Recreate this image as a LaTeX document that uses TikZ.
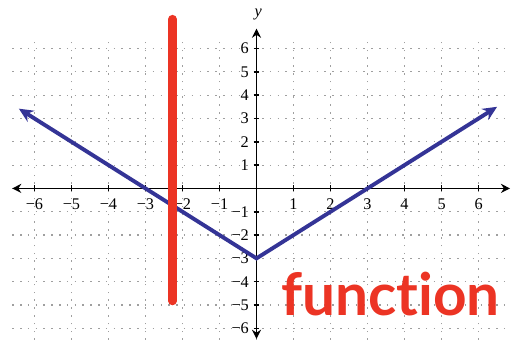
\documentclass[tikz,border=0pt]{standalone}
\usepackage{fontspec}
\newfontfamily\handfont[Ligatures=NoCommon]{Lato}
\newfontfamily\labelfont{Liberation Serif}
\usetikzlibrary{arrows.meta}

\definecolor{graphblue}{RGB}{52,52,150}
\definecolor{penred}{RGB}{236,52,36}

\tikzset{
  gridline/.style={gray!75, line width=0.9pt, dash pattern=on 1.2pt off 4.8pt},
  axis/.style={line width=1.4pt, {Stealth[length=7pt,width=7pt]}-{Stealth[length=7pt,width=7pt]}},
  tick/.style={line width=1.2pt},
  ticklabel/.style={inner sep=0pt, font=\labelfont\fontsize{12.5}{15}\selectfont},
  graph/.style={graphblue, line width=3pt, {Stealth[length=11pt,width=10pt]}-{Stealth[length=11pt,width=10pt]}},
}
\newcommand{\signednum}[1]{\ifnum#1<0 −\number-#1\else#1\fi}

\begin{document}
\begin{tikzpicture}[x=1cm, y=0.63cm]
  \useasboundingbox (-6.93,-6.47) rectangle (6.93,8.08);

  % Grid
  \foreach \i in {-6,-5,-4,-3,-2,-1,0,1,2,3,4,5,6} {
    \draw[gridline] (\i,-6.5) -- (\i,6.5);
    \draw[gridline] (-6.6,\i) -- (6.7,\i);
  }

  % Axes
  \coordinate (xmin) at (-6.6,0);
  \coordinate (xmax) at (6.85,0);
  \coordinate (ymin) at (0,-6.45);
  \coordinate (ymax) at (0,6.85);
  \draw[axis] (xmin) -- (xmax);
  \draw[axis] (ymin) -- (ymax);

  % Ticks and labels
  \foreach \i in {-6,-5,-4,-3,-2,-1,1,2,3,4,5,6} {
    \draw[tick] (\i,-0.13) -- (\i,0.13);
    \node[ticklabel, anchor=north] (xl\i) at (\i,-0.42) {\signednum{\i}};
    \draw[tick] (-0.08,\i) -- (0.08,\i);
    \node[ticklabel, anchor=east] (yl\i) at (-0.2,\i) {\signednum{\i}};
  }
  \node[ticklabel] (ylabel) at (0.05,7.45) {\itshape y};

  % Graph of y = |x| - 3
  \coordinate (gleft) at (-6.42,3.42);
  \coordinate (gvertex) at (0,-3);
  \coordinate (gright) at (6.5,3.5);
  \draw[graph] (gleft) -- (gvertex) -- (gright);

  % Vertical line test
  \draw[penred, line width=6.5pt, line cap=round] (-2.27,7.26) -- (-2.27,-4.83);

  % Handwritten note
  \node[text=penred, anchor=base west, inner sep=0pt,
        font=\handfont\bfseries\fontsize{45}{50}\selectfont] (note) at (0.66,-5.44) {function};
\end{tikzpicture}
\end{document}
